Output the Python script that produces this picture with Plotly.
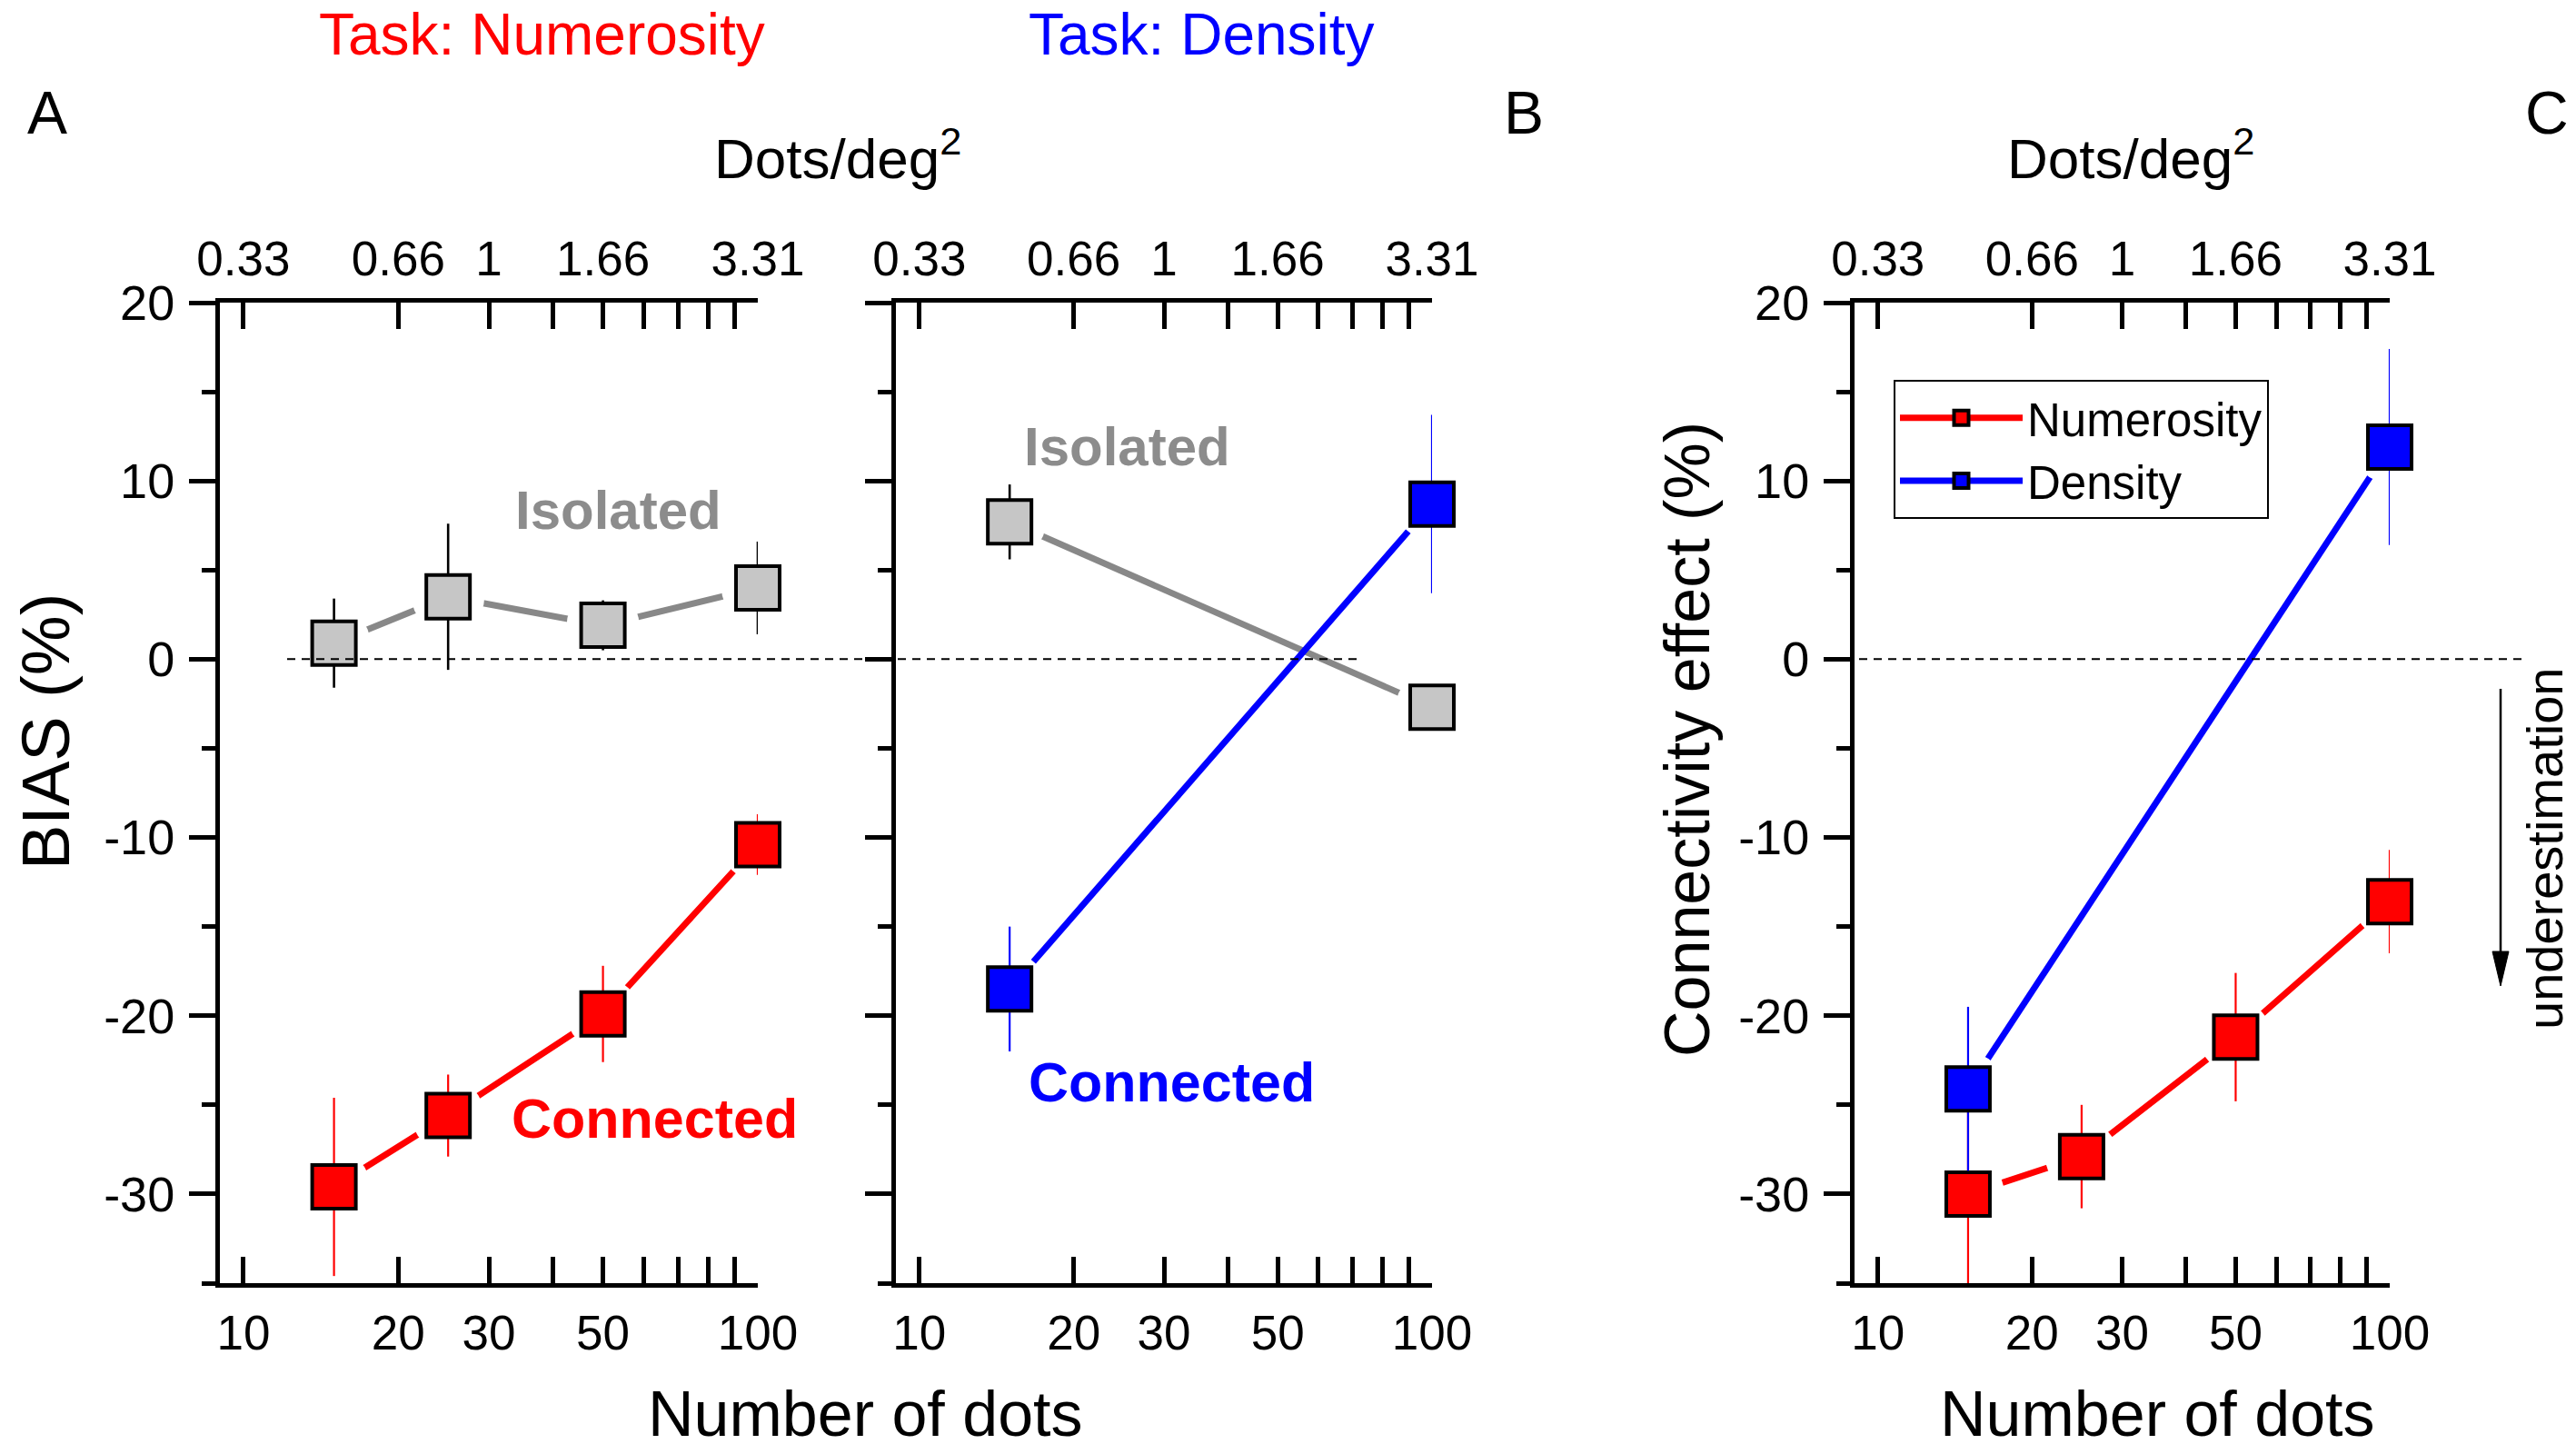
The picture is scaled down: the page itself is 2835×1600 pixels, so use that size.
import math
import plotly.graph_objects as go

W, H = 2835, 1600

# ---------------- data ----------------
n_dots = [15, 25, 50, 100]          # numerosity task stimuli (number of dots)
n_dots_density = [15, 100]          # density task stimuli

# Panel A - Task: Numerosity (BIAS %)
bias_num_isolated = [0.9, 3.5, 1.9, 4.0]
err_num_isolated = [2.5, 4.1, 1.4, 2.6]
bias_num_connected = [-29.6, -25.6, -19.9, -10.4]
err_num_connected = [5.0, 2.3, 2.7, 1.7]

# Panel B - Task: Density (BIAS %)
bias_den_isolated = [7.7, -2.7]
err_den_isolated = [2.1, 1.2]
bias_den_connected = [-18.5, 8.7]
err_den_connected = [3.5, 5.0]

# Panel C - Connectivity effect (%)
conn_numerosity = [-30.0, -27.9, -21.2, -13.6]
err_conn_numerosity = [5.0, 2.9, 3.6, 2.9]
conn_density = [-24.1, 11.9]
err_conn_density = [4.6, 5.5]

tick_dots = [10, 20, 30, 50, 100]
tick_dots_text = ['10', '20', '30', '50', '100']
tick_density_text = ['0.33', '0.66', '1', '1.66', '3.31']
tick_dots_minor = [40, 60, 70, 80, 90]
tick_bias = [-30, -20, -10, 0, 10, 20]
tick_bias_text = ['-30', '-20', '-10', '0', '10', '20']
y_range = [-35, 20]
x_range_dots = [9, 100]

# ---------------- style ----------------
FONT = "Arial, Liberation Sans, Helvetica, sans-serif"
RED = "#FF0000"
BLUE = "#0000FF"
GREY_LINE = "#888888"
GREY_FILL = "#C6C6C6"
LW = 7
MS = 48


def px(x):
    return x / W


def py(y):
    return 1 - y / H


fig = go.Figure()

panels = [
    # (bottom xaxis, top xaxis, yaxis, x, y, err, line colour, fill colour, err colour, err width)
    ("x", "x4", "y", n_dots, bias_num_isolated, err_num_isolated, GREY_LINE, GREY_FILL, "black", 2.6),
    ("x", "x4", "y", n_dots, bias_num_connected, err_num_connected, RED, RED, RED, 2.2),
    ("x2", "x5", "y2", n_dots_density, bias_den_isolated, err_den_isolated, GREY_LINE, GREY_FILL, "black", 2.6),
    ("x2", "x5", "y2", n_dots_density, bias_den_connected, err_den_connected, BLUE, BLUE, BLUE, 2.2),
    ("x3", "x6", "y3", n_dots, conn_numerosity, err_conn_numerosity, RED, RED, RED, 2.2),
    ("x3", "x6", "y3", n_dots_density, conn_density, err_conn_density, BLUE, BLUE, BLUE, 2.2),
]

# connecting lines
for xa, xt, ya, xs, ys, es, lc, fc, ec, ew in panels:
    fig.add_trace(go.Scatter(x=xs, y=ys, xaxis=xa, yaxis=ya, mode="lines",
                             line=dict(color=lc, width=LW), showlegend=False,
                             hoverinfo="skip"))
# white halos giving the gap between line and symbol
for xa, xt, ya, xs, ys, es, lc, fc, ec, ew in panels:
    fig.add_trace(go.Scatter(x=xs, y=ys, xaxis=xa, yaxis=ya, mode="markers",
                             marker=dict(symbol="circle", size=80, color="white",
                                         line=dict(width=0)),
                             cliponaxis=False, showlegend=False, hoverinfo="skip"))
# symbols with error bars (on the top, density-labelled axis: identical scale)
for xa, xt, ya, xs, ys, es, lc, fc, ec, ew in panels:
    fig.add_trace(go.Scatter(x=xs, y=ys, xaxis=xt, yaxis=ya, mode="markers",
                             marker=dict(symbol="square", size=MS, color=fc,
                                         line=dict(color="black", width=4)),
                             error_y=dict(type="data", array=es, visible=True,
                                          color=ec, thickness=ew, width=0),
                             cliponaxis=False, showlegend=False))

# legend entries (panel C)
fig.add_trace(go.Scatter(x=[None], y=[None], xaxis="x3", yaxis="y3",
                         mode="lines+markers", name="Numerosity",
                         line=dict(color=RED, width=LW),
                         marker=dict(symbol="square", size=MS, color=RED,
                                     line=dict(color="black", width=4))))
fig.add_trace(go.Scatter(x=[None], y=[None], xaxis="x3", yaxis="y3",
                         mode="lines+markers", name="Density",
                         line=dict(color=BLUE, width=LW),
                         marker=dict(symbol="square", size=MS, color=BLUE,
                                     line=dict(color="black", width=4))))

xr = [math.log10(x_range_dots[0]), math.log10(x_range_dots[1])]
dom_y = [py(1412), py(333)]
doms_x = [[px(242), px(834)], [px(986), px(1576)], [px(2041), px(2630)]]

x_minor = dict(tickmode="array", tickvals=tick_dots_minor, ticks="inside",
               ticklen=29, tickwidth=5, tickcolor="black", showgrid=False)


def xaxis_bottom(dom, anchor):
    return dict(type="log", range=xr, domain=dom, anchor=anchor, automargin=False,
                tickmode="array", tickvals=tick_dots, ticktext=tick_dots_text,
                ticks="inside", ticklen=29, tickwidth=5, tickcolor="black",
                minor=x_minor,
                showline=True, linewidth=5, linecolor="black",
                showgrid=False, zeroline=False, ticklabelstandoff=4,
                tickfont=dict(family=FONT, size=53, color="black"))


def xaxis_top(over, anchor):
    return dict(type="log", range=xr, overlaying=over, anchor=anchor, side="top",
                automargin=False,
                tickmode="array", tickvals=tick_dots, ticktext=tick_density_text,
                ticks="inside", ticklen=29, tickwidth=5, tickcolor="black",
                minor=x_minor,
                showline=True, linewidth=5, linecolor="black",
                showgrid=False, zeroline=False, ticklabelstandoff=4,
                tickfont=dict(family=FONT, size=53, color="black"))


def yaxis(anchor, labels):
    return dict(range=y_range, domain=dom_y, anchor=anchor, automargin=False,
                tickmode="array", tickvals=tick_bias, ticktext=tick_bias_text,
                ticks="outside", ticklen=29, tickwidth=5, tickcolor="black",
                minor=dict(tick0=0, dtick=5, ticks="outside", ticklen=15,
                           tickwidth=5, tickcolor="black", showgrid=False),
                showline=True, linewidth=5, linecolor="black",
                showgrid=False, zeroline=False, showticklabels=labels,
                ticklabelstandoff=5,
                tickfont=dict(family=FONT, size=54, color="black"))


dash = "9px,7px"
shapes = [
    dict(type="line", xref="paper", yref="y", x0=px(316), x1=px(1500), y0=0, y1=0,
         line=dict(color="black", width=2, dash=dash), layer="above"),
    dict(type="line", xref="paper", yref="y3", x0=px(2046), x1=px(2777), y0=0, y1=0,
         line=dict(color="black", width=2, dash=dash), layer="above"),
    dict(type="line", xref="paper", yref="paper", x0=px(2752), x1=px(2752),
         y0=py(758), y1=py(1050), line=dict(color="black", width=2.5)),
    dict(type="path", xref="paper", yref="paper",
         path=f"M {px(2743)},{py(1047)} L {px(2761)},{py(1047)} L {px(2752)},{py(1085)} Z",
         fillcolor="black", line=dict(color="black", width=1)),
]


def ann(text, x, y, size, color="black", bold=False, angle=0):
    t = f"<b>{text}</b>" if bold else text
    return dict(text=t, x=px(x), y=py(y), xref="paper", yref="paper",
                xanchor="center", yanchor="middle", showarrow=False,
                textangle=angle, font=dict(family=FONT, size=size, color=color))


annotations = [
    ann("Task: Numerosity", 596, 38, 64, RED),
    ann("Task: Density", 1322, 38, 64, BLUE),
    ann("A", 52, 124, 66),
    ann("B", 1677, 124, 66),
    ann("C", 2803, 124, 66),
    ann("Dots/deg<sup>2</sup>", 922, 170, 62),
    ann("Dots/deg<sup>2</sup>", 2345, 170, 62),
    ann("Number of dots", 952, 1556, 70),
    ann("Number of dots", 2374, 1556, 70),
    ann("BIAS (%)", 50, 805, 74, angle=-90),
    ann("Connectivity effect (%)", 1857, 814, 70, angle=-90),
    ann("Isolated", 680, 561, 60, "#8C8C8C", bold=True),
    ann("Isolated", 1240, 491, 60, "#8C8C8C", bold=True),
    ann("Connected", 720, 1231, 61, RED, bold=True),
    ann("Connected", 1289, 1191, 61, BLUE, bold=True),
    ann("underestimation", 2800, 934, 56, angle=-90),
]

fig.update_layout(
    template="none",
    width=W, height=H,
    margin=dict(l=0, r=0, t=0, b=0, pad=0),
    paper_bgcolor="white", plot_bgcolor="white",
    font=dict(family=FONT, color="black"),
    xaxis=xaxis_bottom(doms_x[0], "y"),
    xaxis2=xaxis_bottom(doms_x[1], "y2"),
    xaxis3=xaxis_bottom(doms_x[2], "y3"),
    xaxis4=xaxis_top("x", "y"),
    xaxis5=xaxis_top("x2", "y2"),
    xaxis6=xaxis_top("x3", "y3"),
    yaxis=yaxis("x", True),
    yaxis2=yaxis("x2", False),
    yaxis3=yaxis("x3", True),
    shapes=shapes,
    annotations=annotations,
    showlegend=True,
    legend=dict(x=px(2084), y=py(418), xanchor="left", yanchor="top",
                bgcolor="white", bordercolor="black", borderwidth=2,
                font=dict(family=FONT, size=51, color="black"),
                itemwidth=135, tracegroupgap=0),
    hovermode=False,
)

fig.write_html("out.html", config={"displayModeBar": False},
               post_script="document.body.style.margin='0';")
